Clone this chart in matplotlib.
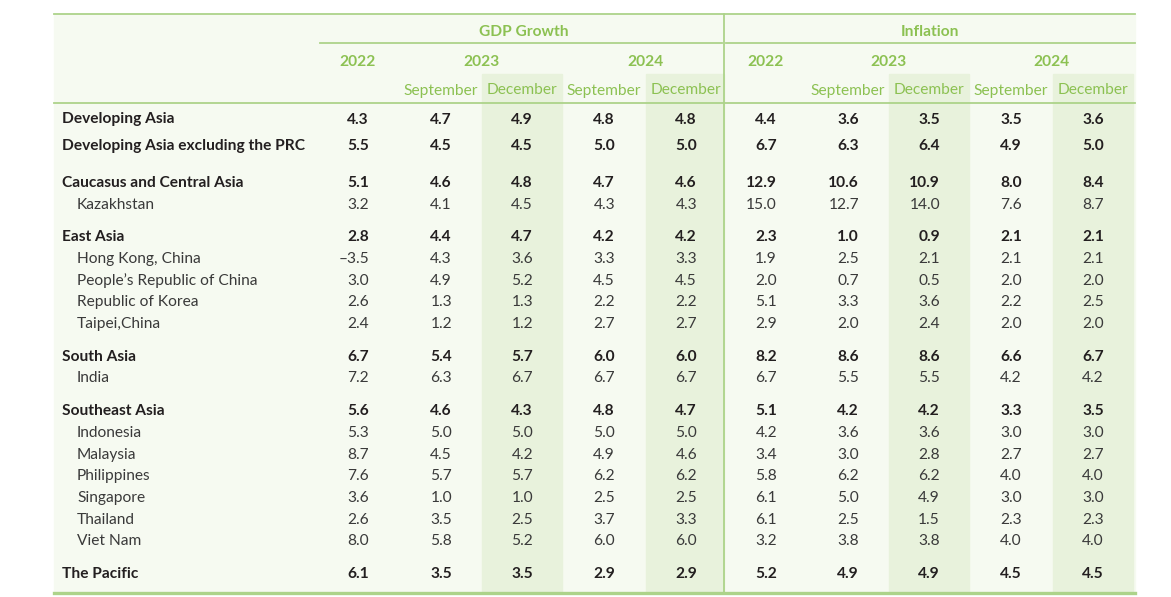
import matplotlib.pyplot as plt
from matplotlib.patches import Rectangle

plt.rcParams['font.family'] = ['Lato', 'DejaVu Sans']

# ---- data ----
economies = ['Developing Asia', 'Developing Asia excluding the PRC',
             'Caucasus and Central Asia', 'Kazakhstan',
             'East Asia', 'Hong Kong, China', 'People\u2019s Republic of China',
             'Republic of Korea', 'Taipei,China',
             'South Asia', 'India',
             'Southeast Asia', 'Indonesia', 'Malaysia', 'Philippines',
             'Singapore', 'Thailand', 'Viet Nam',
             'The Pacific']
is_region = [1, 1, 1, 0, 1, 0, 0, 0, 0, 1, 0, 1, 0, 0, 0, 0, 0, 0, 1]

gdp_2022 = [4.3, 5.5, 5.1, 3.2, 2.8, -3.5, 3.0, 2.6, 2.4, 6.7, 7.2, 5.6, 5.3, 8.7, 7.6, 3.6, 2.6, 8.0, 6.1]
gdp_2023_sep = [4.7, 4.5, 4.6, 4.1, 4.4, 4.3, 4.9, 1.3, 1.2, 5.4, 6.3, 4.6, 5.0, 4.5, 5.7, 1.0, 3.5, 5.8, 3.5]
gdp_2023_dec = [4.9, 4.5, 4.8, 4.5, 4.7, 3.6, 5.2, 1.3, 1.2, 5.7, 6.7, 4.3, 5.0, 4.2, 5.7, 1.0, 2.5, 5.2, 3.5]
gdp_2024_sep = [4.8, 5.0, 4.7, 4.3, 4.2, 3.3, 4.5, 2.2, 2.7, 6.0, 6.7, 4.8, 5.0, 4.9, 6.2, 2.5, 3.7, 6.0, 2.9]
gdp_2024_dec = [4.8, 5.0, 4.6, 4.3, 4.2, 3.3, 4.5, 2.2, 2.7, 6.0, 6.7, 4.7, 5.0, 4.6, 6.2, 2.5, 3.3, 6.0, 2.9]

inf_2022 = [4.4, 6.7, 12.9, 15.0, 2.3, 1.9, 2.0, 5.1, 2.9, 8.2, 6.7, 5.1, 4.2, 3.4, 5.8, 6.1, 6.1, 3.2, 5.2]
inf_2023_sep = [3.6, 6.3, 10.6, 12.7, 1.0, 2.5, 0.7, 3.3, 2.0, 8.6, 5.5, 4.2, 3.6, 3.0, 6.2, 5.0, 2.5, 3.8, 4.9]
inf_2023_dec = [3.5, 6.4, 10.9, 14.0, 0.9, 2.1, 0.5, 3.6, 2.4, 8.6, 5.5, 4.2, 3.6, 2.8, 6.2, 4.9, 1.5, 3.8, 4.9]
inf_2024_sep = [3.5, 4.9, 8.0, 7.6, 2.1, 2.1, 2.0, 2.2, 2.0, 6.6, 4.2, 3.3, 3.0, 2.7, 4.0, 3.0, 2.3, 4.0, 4.5]
inf_2024_dec = [3.6, 5.0, 8.4, 8.7, 2.1, 2.1, 2.0, 2.5, 2.0, 6.7, 4.2, 3.5, 3.0, 2.7, 4.0, 3.0, 2.3, 4.0, 4.5]

blocks = ['GDP Growth', 'Inflation']
years = ['2022', '2023', '2024']
months = ['September', 'December']

# ---- layout (pixel coords) ----
W, H = 1171, 597
left, right = 54, 1135
top, head_bot, bottom = 14, 103, 593
divider = 724
col_centers = [358, 441, 522, 604, 686, 766, 848, 929, 1011, 1093]
col_half = 11
dec_cols = [2, 4, 7, 9]
shade_half = 40
row_gap_before = [0, 5, 15, 0, 11, 0, 0, 0, 0, 11, 0, 11, 0, 0, 0, 0, 0, 0, 11]
row_step = 21.7
dy = 1.5  # nudge text down to sit like the original

green = '#8cc152'
line_green = '#add38a'
bg = '#f6faf1'
shade = '#e8f2dc'
dark = '#231f20'
grey = '#3a3a3a'

fig = plt.figure(figsize=(W / 100, H / 100), dpi=100)
ax = fig.add_axes([0, 0, 1, 1])
ax.set_xlim(0, W)
ax.set_ylim(H, 0)
ax.axis('off')

ax.add_patch(Rectangle((left, top), right - left, bottom - top, color=bg, zorder=0))
for c in dec_cols:
    x0 = col_centers[c] - shade_half
    x1 = min(col_centers[c] + shade_half, divider if c < 5 else right)
    ax.add_patch(Rectangle((x0, 74), x1 - x0, bottom - 74, color=shade, zorder=1))

ax.plot([left, right], [top, top], color=line_green, lw=1.3, zorder=2)
ax.plot([left, right], [head_bot, head_bot], color=line_green, lw=1.3, zorder=2)
ax.plot([320, divider - 2], [43, 43], color=line_green, lw=1.3, zorder=2)
ax.plot([divider + 2, right], [43, 43], color=line_green, lw=1.3, zorder=2)
ax.plot([divider, divider], [top, bottom], color=line_green, lw=1.3, zorder=2)
ax.plot([left, right], [bottom, bottom], color=line_green, lw=2.4, zorder=2)

# header
fs = 11.2
for b, name in enumerate(blocks):
    cc = col_centers[b * 5:(b + 1) * 5]
    ax.text((cc[0] + cc[4]) / 2 + (2 if b == 0 else 0), 30 + dy, name, ha='center', va='center',
            color=green, fontsize=fs, fontweight='bold')
    ax.text(cc[0], 60 + dy, years[0], ha='center', va='center', color=green, fontsize=fs, fontweight='bold')
    ax.text((cc[1] + cc[2]) / 2, 60 + dy, years[1], ha='center', va='center', color=green, fontsize=fs, fontweight='bold')
    ax.text((cc[3] + cc[4]) / 2, 60 + dy, years[2], ha='center', va='center', color=green, fontsize=fs, fontweight='bold')
    for k in range(4):
        ax.text(cc[k + 1], 89 + dy, months[k % 2], ha='center', va='center', color=green, fontsize=fs)

# body
series = [gdp_2022, gdp_2023_sep, gdp_2023_dec, gdp_2024_sep, gdp_2024_dec,
          inf_2022, inf_2023_sep, inf_2023_dec, inf_2024_sep, inf_2024_dec]
y = 118
for i, name in enumerate(economies):
    if i > 0:
        y += row_step + row_gap_before[i]
    bold = is_region[i] == 1
    ax.text(62 if bold else 77, y + dy, name, ha='left', va='center', fontsize=fs,
            color=dark if bold else grey, fontweight='bold' if bold else 'normal')
    for c, vals in enumerate(series):
        v = vals[i]
        txt = f'{v:.1f}'.replace('-', '\u2013')
        ax.text(col_centers[c] + col_half, y + dy, txt, ha='right', va='center', fontsize=fs,
                color=dark if bold else grey, fontweight='bold' if bold else 'normal')

fig.savefig('out.png', dpi=100)
